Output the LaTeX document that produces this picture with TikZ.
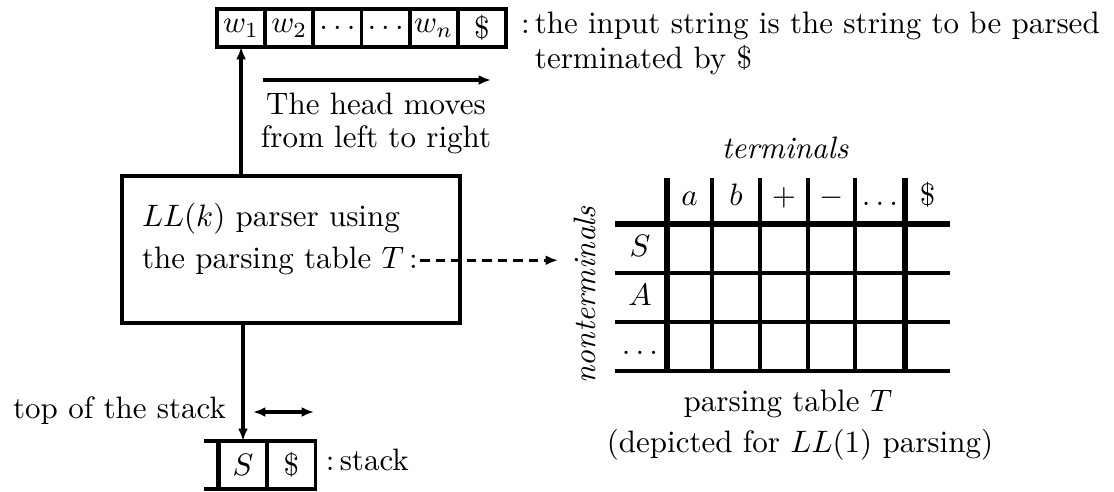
\documentclass[tikz,border=0pt]{standalone}
\usetikzlibrary{arrows.meta}
\begin{document}
\begin{tikzpicture}[x=0.3226pt,y=-0.3226pt,
  tapecell/.style={draw,line width=1.2pt,minimum width=15.54pt,minimum height=12.26pt,inner sep=0pt,outer sep=0pt},
  stackcell/.style={draw,line width=1.2pt,minimum width=15.5pt,minimum height=15.5pt,inner sep=0pt,outer sep=0pt},
  conn/.style={line width=1.1pt,-{Latex[length=4pt,width=3.2pt]}},
  thin/.style={line width=1pt},
  thickline/.style={line width=1.8pt},
  txt/.style={inner sep=0pt,outer sep=0pt}]
\useasboundingbox (0,0) rectangle (1114,491);
% input tape
\node[tapecell] (w1) at (241.1,28) {$w_1$};
\node[tapecell] (w2) at (289.3,28) {$w_2$};
\node[tapecell] (d1) at (337.4,28) {$\dots$};
\node[tapecell] (d2) at (385.6,28) {$\dots$};
\node[tapecell] (wn) at (433.7,28) {$w_n$};
\node[tapecell] (wd) at (481.9,28) {\$};
\node[txt,anchor=base west] (in1) at (521,33) {$:$\,the input string is the string to be parsed};
\node[txt,anchor=base west] (in2) at (535,68) {terminated by \$};
% head moves
\coordinate (hs) at (263,80);
\coordinate (he) at (491,80);
\draw[conn] (hs) -- (he);
\node[txt,anchor=base] (hm1) at (376,114) {The head moves};
\node[txt,anchor=base] (hm2) at (376,147) {from left to right};
% parser box
\node[draw,line width=1.1pt,minimum width=109pt,minimum height=47.4pt,inner sep=0pt] (parser) at (291,249.5) {};
\node[txt,anchor=base west] (p1) at (142,226) {$LL(k)$ parser using};
\node[txt,anchor=base west] (p2) at (142,268) {the parsing table $T$\,:};
\draw[conn] (parser.north -| w1.south) -- (w1.south);
% table
\coordinate (tab) at (558,260);
\coordinate (ps) at ([xshift=0.8pt,yshift=2.5pt]p2.base east);
\draw[line width=1.1pt,dash pattern=on 3pt off 2pt,-{Latex[length=4pt,width=3.2pt]}] (ps) -- (ps -| tab);
\node[txt,anchor=base] (term) at (785,158) {\itshape terminals};
\node[txt,rotate=90] (nonterm) at (585,295) {\itshape nonterminals};
\draw[thickline] (615,224) -- (950,224);
\foreach \yy in {273,322,371} \draw[thin] (615,\yy) -- (950,\yy);
\draw[thickline] (667,178) -- (667,372);
\draw[thickline] (905,178) -- (905,372);
\foreach \xx in {712,760,808,855} \draw[thin] (\xx,178) -- (\xx,371);
\node[txt,anchor=base] (ca) at (689.5,205) {$a$};
\node[txt,anchor=base] (cb) at (736,205) {$b$};
\node[txt,anchor=base] (cp) at (784,205) {$+$};
\node[txt,anchor=base] (cm) at (831.5,205) {$-$};
\node[txt,anchor=base] (cd) at (880,205) {$\dots$};
\node[txt,anchor=base] (cs) at (927.5,205) {\$};
\node[txt,anchor=base] (rS) at (640,256) {$S$};
\node[txt,anchor=base] (rA) at (640,305) {$A$};
\node[txt,anchor=base] (rd) at (640,354) {$\dots$};
\node[txt,anchor=base] (pt1) at (788,411) {parsing table $T$};
\node[txt,anchor=base] (pt2) at (800,452) {(depicted for $LL(1)$ parsing)};
% stack
\node[stackcell] (sS) at (243,465) {$S$};
\node[stackcell] (sD) at (291.5,465) {\$};
\draw[line width=1.2pt] (sS.north west) -- ++(-15,0);
\draw[line width=1.2pt] (sS.south west) -- ++(-15,0);
\draw[line width=1.6pt] (sS.north west) -- (sS.south west);
\node[txt,anchor=base west] (stk) at (326,470) {$:$\,stack};
\draw[conn] (parser.south -| sS.north) -- (sS.north);
\node[txt,anchor=base east] (tos) at (226,418) {top of the stack};
\coordinate (ds) at (253,412);
\coordinate (de) at (314,412);
\draw[line width=1.1pt,{Latex[length=4pt,width=3.2pt]}-{Latex[length=4pt,width=3.2pt]}] (ds) -- (de);
\end{tikzpicture}
\end{document}
